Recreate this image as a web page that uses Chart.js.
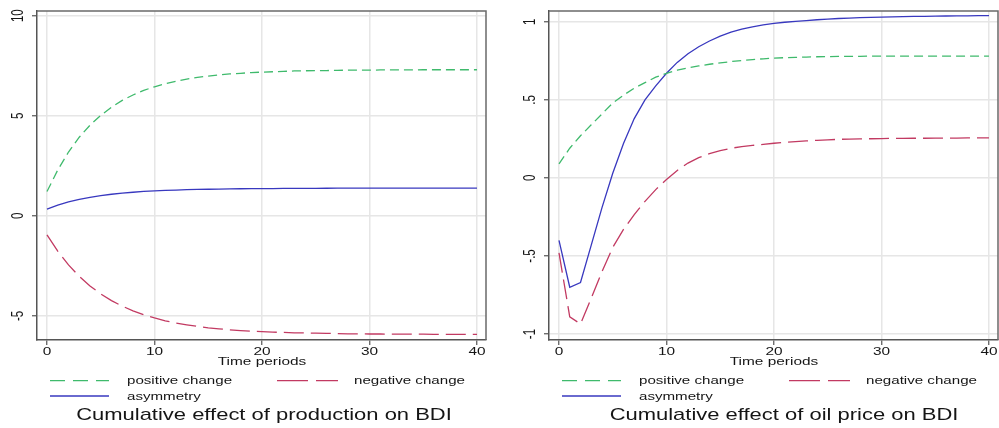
<!DOCTYPE html>
<html><head><meta charset="utf-8">
<script src="https://cdn.jsdelivr.net/npm/chart.js@4.4.0/dist/chart.umd.min.js"></script>
<style>
html,body{margin:0;padding:0;background:#fff;}
body{width:999px;height:428px;overflow:hidden;position:relative;font-family:"Liberation Sans",Arial,sans-serif;}
.pane{position:absolute;top:0;height:372px;}
#p1{left:0;width:499px;}
#p2{left:499px;width:500px;}
.t{position:absolute;white-space:nowrap;color:#151515;}
.c{transform:translateX(-50%) scaleX(1.4);}
.l{transform:scaleX(1.4);transform-origin:left center;}
.ax{font-size:11px;line-height:14px;}
.lg{font-size:10.8px;line-height:14px;}
.ti{font-size:15.7px;line-height:20px;}
svg{position:absolute;left:0;top:0;}
</style></head>
<body>
<div class="pane" id="p1"><canvas id="c1" width="499" height="372"></canvas></div>
<div class="pane" id="p2"><canvas id="c2" width="500" height="372"></canvas></div>

<svg width="999" height="428">
  <line x1="50" y1="380.7" x2="109" y2="380.7" stroke="#3fba6c" stroke-width="1.3" stroke-dasharray="15 8"/>
  <line x1="277" y1="380.7" x2="338" y2="380.7" stroke="#c23a62" stroke-width="1.3" stroke-dasharray="31 8"/>
  <line x1="50" y1="396" x2="109" y2="396" stroke="#3838bf" stroke-width="1.3"/>
  <line x1="562" y1="380.7" x2="621" y2="380.7" stroke="#3fba6c" stroke-width="1.3" stroke-dasharray="15 8"/>
  <line x1="789" y1="380.7" x2="850" y2="380.7" stroke="#c23a62" stroke-width="1.3" stroke-dasharray="31 8"/>
  <line x1="562" y1="396" x2="621" y2="396" stroke="#3838bf" stroke-width="1.3"/>
</svg>

<div class="t ax" style="left:261.5px;top:354.2px;"><div class="c">Time periods</div></div>
<div class="t ax" style="left:773.5px;top:354.2px;"><div class="c">Time periods</div></div>

<div class="t lg" style="left:126.7px;top:373px;"><div class="l">positive change</div></div>
<div class="t lg" style="left:354px;top:373px;"><div class="l">negative change</div></div>
<div class="t lg" style="left:126.7px;top:388.8px;"><div class="l">asymmetry</div></div>
<div class="t lg" style="left:638.7px;top:373px;"><div class="l">positive change</div></div>
<div class="t lg" style="left:866px;top:373px;"><div class="l">negative change</div></div>
<div class="t lg" style="left:638.7px;top:388.8px;"><div class="l">asymmetry</div></div>

<div class="t ti" style="left:264px;top:404.6px;"><div class="c">Cumulative effect of production on BDI</div></div>
<div class="t ti" style="left:783.5px;top:404.6px;"><div class="c">Cumulative effect of oil price on BDI</div></div>

<script>
// ---- data ----
const periods = [0,1,2,3,4,5,6,7,8,9,10,11,12,13,14,15,16,17,18,19,20,21,22,23,24,25,26,27,28,29,30,31,32,33,34,35,36,37,38,39,40];

const prodPositive = [1.22,2.29,3.19,3.93,4.53,5.02,5.43,5.77,6.04,6.27,6.45,
  6.60,6.73,6.83,6.92,6.98,7.04,7.09,7.12,7.16,7.18,
  7.20,7.22,7.24,7.25,7.26,7.26,7.27,7.28,7.28,7.28,
  7.29,7.29,7.29,7.29,7.30,7.30,7.30,7.30,7.30,7.30];
const prodNegative = [-0.95,-1.76,-2.45,-3.02,-3.50,-3.90,-4.23,-4.51,-4.74,-4.94,-5.10,
  -5.24,-5.35,-5.44,-5.52,-5.59,-5.64,-5.69,-5.73,-5.76,-5.78,
  -5.81,-5.82,-5.84,-5.85,-5.86,-5.87,-5.88,-5.89,-5.89,-5.90,
  -5.90,-5.91,-5.91,-5.91,-5.91,-5.92,-5.92,-5.92,-5.92,-5.92];
const prodAsymmetry = [0.34,0.54,0.70,0.83,0.93,1.01,1.08,1.14,1.18,1.22,1.25,
  1.27,1.29,1.31,1.32,1.33,1.34,1.35,1.355,1.36,1.36,
  1.365,1.37,1.372,1.375,1.377,1.38,1.382,1.384,1.385,1.386,
  1.387,1.387,1.388,1.388,1.389,1.389,1.39,1.39,1.39,1.39];

const oilPositive = [0.09,0.19,0.27,0.34,0.41,0.48,0.53,0.575,0.61,0.645,0.67,
  0.69,0.705,0.717,0.728,0.737,0.745,0.752,0.758,0.763,0.767,
  0.77,0.772,0.774,0.776,0.777,0.778,0.779,0.779,0.78,0.78,
  0.78,0.78,0.78,0.78,0.78,0.78,0.78,0.78,0.78,0.78];
const oilNegative = [-0.48,-0.89,-0.935,-0.77,-0.60,-0.445,-0.33,-0.235,-0.15,-0.075,-0.01,
  0.048,0.095,0.13,0.156,0.175,0.19,0.2,0.208,0.215,0.222,
  0.228,0.233,0.237,0.241,0.244,0.247,0.249,0.25,0.251,0.252,
  0.253,0.253,0.254,0.254,0.255,0.255,0.255,0.256,0.256,0.256];
const oilAsymmetry = [-0.40,-0.70,-0.67,-0.43,-0.19,0.03,0.22,0.38,0.50,0.59,0.67,
  0.74,0.795,0.84,0.877,0.908,0.933,0.953,0.968,0.98,0.99,
  0.997,1.003,1.008,1.013,1.017,1.021,1.024,1.026,1.028,1.03,
  1.032,1.033,1.034,1.035,1.036,1.037,1.038,1.038,1.039,1.039];

const xTicks = [0,10,20,30,40];
const xTickLabels = ["0","10","20","30","40"];
const prodYTicks = [-5,0,5,10];
const prodYTickLabels = ["-5","0","5","10"];
const oilYTicks = [-1,-0.5,0,0.5,1];
const oilYTickLabels = ["-1","-.5","0",".5","1"];

// ---- styles ----
const GREEN = '#3fba6c', RED = '#c23a62', BLUE = '#3838bf';

const deco = {
  id: 'deco',
  afterDraw(chart, args, o) {
    const {ctx, chartArea: a, scales: {x, y}} = chart;
    ctx.save();
    ctx.strokeStyle = '#6a6a6a'; ctx.lineWidth = 1.5;
    ctx.beginPath();
    ctx.moveTo(a.left, a.top); ctx.lineTo(a.right, a.top); ctx.lineTo(a.right, a.bottom);
    ctx.stroke();
    ctx.fillStyle = '#151515';
    ctx.textAlign = 'center'; ctx.textBaseline = 'middle';
    ctx.font = '11px "Liberation Sans", Arial, sans-serif';
    x.ticks.forEach((t, i) => {
      ctx.save();
      ctx.translate(x.getPixelForValue(t.value), 352);
      ctx.scale(1.4, 1);
      ctx.fillText(o.xLabels[i], 0, 0);
      ctx.restore();
    });
    ctx.font = '11.5px "Liberation Sans", Arial, sans-serif';
    y.ticks.forEach((t, i) => {
      ctx.save();
      ctx.translate(o.yLabelX, y.getPixelForValue(t.value));
      ctx.rotate(-Math.PI / 2);
      ctx.scale(1, 1.4);
      ctx.fillText(o.yLabels[i], 0, 0);
      ctx.restore();
    });
    ctx.restore();
  }
};

function ds(label, vals, color, dash) {
  return {
    label, data: periods.map((p, i) => ({x: p, y: vals[i]})),
    borderColor: color, borderWidth: 1.3, borderDash: dash, pointRadius: 0, fill: false,
    tension: 0
  };
}

function makeChart(id, sets, yMin, yMax, yTicks, yLabels, axisW, padRight, yLabelX) {
  const gridCommon = {color: '#e6e6e6', lineWidth: 1.5, tickLength: 5, tickColor: '#555', tickWidth: 1.2, drawTicks: true};
  return new Chart(document.getElementById(id), {
    type: 'line',
    data: {datasets: sets},
    plugins: [deco],
    options: {
      responsive: false, animation: false, devicePixelRatio: 1,
      layout: {padding: {top: 11, right: padRight, left: 0, bottom: 0}},
      plugins: {legend: {display: false}, tooltip: {enabled: false},
        deco: {xLabels: xTickLabels, yLabels: yLabels, yLabelX: yLabelX}},
      scales: {
        x: {type: 'linear', min: -0.93, max: 40.84,
          afterBuildTicks: s => { s.ticks = xTicks.map(v => ({value: v})); },
          afterFit: s => { s.height = 32; },
          ticks: {display: false}, grid: gridCommon,
          border: {color: '#555', width: 1.5}},
        y: {type: 'linear', min: yMin, max: yMax,
          afterBuildTicks: s => { s.ticks = yTicks.map(v => ({value: v})); },
          afterFit: s => { s.width = axisW; },
          ticks: {display: false}, grid: gridCommon,
          border: {color: '#555', width: 1.5}}
      }
    }
  });
}

makeChart('c1', [
  ds('positive change', prodPositive, GREEN, [9, 5]),
  ds('negative change', prodNegative, RED, [20, 7]),
  ds('asymmetry', prodAsymmetry, BLUE, [])
], -6.2, 10.235, prodYTicks, prodYTickLabels, 37, 13, 19);

makeChart('c2', [
  ds('positive change', oilPositive, GREEN, [9, 5]),
  ds('negative change', oilNegative, RED, [20, 7]),
  ds('asymmetry', oilAsymmetry, BLUE, [])
], -1.038, 1.069, oilYTicks, oilYTickLabels, 50, 1, 32);
</script>
</body></html>
